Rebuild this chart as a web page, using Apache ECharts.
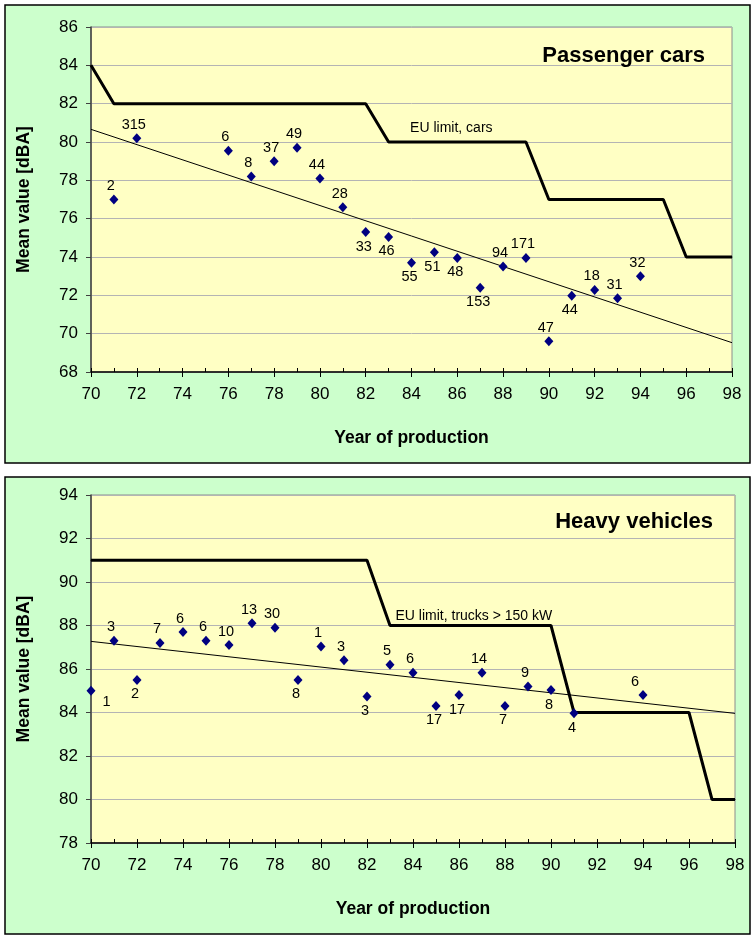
<!DOCTYPE html>
<html>
<head>
<meta charset="utf-8">
<script src="https://cdn.jsdelivr.net/npm/echarts@6/dist/echarts.min.js"></script>
<style>
html,body{margin:0;padding:0;background:#fff;}
#chart{width:752px;height:935px;}
</style>
</head>
<body>
<div id="chart"></div>
<script>
// ---------- Data ----------
const xTicks = [70,72,74,76,78,80,82,84,86,88,90,92,94,96,98];

// Passenger cars
const carsYears  = [71,72,76,77,78,79,80,81,82,83,84,85,86,87,88,89,90,91,92,93,94];
const carsMeans  = [77.0,80.2,79.55,78.2,79.0,79.7,78.1,76.6,75.3,75.05,73.7,74.25,73.95,72.4,73.5,73.95,69.6,71.98,72.28,71.85,73.0];
const carsCounts = [2,315,6,8,37,49,44,28,33,46,55,51,48,153,94,171,47,44,18,31,32];
const carsLimitYears  = [70,71,82,83,89,90,95,96,98];
const carsLimitValues = [84,82,82,80,80,77,77,74,74];
const carsTrendYears  = [70,98];
const carsTrendValues = [80.66,69.53];

// Heavy vehicles
const trucksYears  = [70,71,72,73,74,75,76,77,78,79,80,81,82,83,84,85,86,87,88,89,90,91,94];
const trucksMeans  = [85.0,87.3,85.5,87.2,87.7,87.3,87.1,88.1,87.9,85.5,87.03,86.4,84.73,86.2,85.83,84.3,84.8,85.83,84.3,85.2,85.03,83.96,84.8];
const trucksCounts = [1,3,2,7,6,6,10,13,30,8,1,3,3,5,6,17,17,14,7,9,8,4,6];
const trucksLimitYears  = [70,82,83,90,91,96,97,98];
const trucksLimitValues = [91,91,88,88,84,84,80,80];
const trucksTrendYears  = [70,98];
const trucksTrendValues = [87.27,83.96];

// ---------- Label placement (style) ----------
const carsLabelSide   = ['t','t','t','t','t','t','t','t','b','b','b','b','b','b','t','t','t','b','t','t','t'];
const trucksLabelSide = ['r','t','b','t','t','t','t','t','t','b','t','t','b','t','t','b','b','t','b','t','b','b','tl'];

const FONT = "'Liberation Sans', Arial, sans-serif";

function labelFor(side){
  const base = {show:true, fontSize:14.5, color:'#000', fontFamily:FONT,
    formatter: p => String(p.value[2])};
  if (side === 't')  return Object.assign(base,{position:'top', distance:1, offset:[-3,0]});
  if (side === 'tl') return Object.assign(base,{position:'top', distance:1, offset:[-8,0]});
  if (side === 'r')  return Object.assign(base,{position:'right', distance:7, offset:[0,11]});
  return Object.assign(base,{position:'bottom', distance:2, offset:[-2,0]});
}
function scatterData(xs, ys, cs, sides){
  return xs.map((x,i)=>({value:[x, ys[i], cs[i]], label: labelFor(sides[i])}));
}
function pairs(xs, ys){ return xs.map((x,i)=>[x, ys[i]]); }
function limitData(xs, ys, labelIdx, text, dist, offY){
  return xs.map((x,i)=>{
    const d = {value:[x, ys[i]]};
    if (i === labelIdx) d.label = {show:true, formatter:text, position:'right', distance:dist,
      offset:[0,offY], fontSize:14, color:'#000', fontFamily:FONT};
    return d;
  });
}

const grids = [
  {left:91, top:27, width:641, height:345},
  {left:91, top:495, width:644, height:348}
];

function xAxes(gi){
  return [
    {type:'value', gridIndex:gi, min:70, max:98, interval:2, position:'bottom',
     axisLine:{show:true, onZero:false, lineStyle:{color:'#000', width:1.5}},
     axisTick:{show:true, inside:false, length:5, lineStyle:{color:'#000', width:1}},
     axisLabel:{show:true, fontSize:17, color:'#000', fontFamily:FONT, margin:14,
       customValues: xTicks},
     splitLine:{show:false},
     name:'Year of production', nameLocation:'middle', nameGap:57,
     nameTextStyle:{fontSize:17.5, fontWeight:'bold', color:'#000', fontFamily:FONT}},
    {type:'value', gridIndex:gi, min:70, max:98, interval:1, position:'bottom',
     axisLine:{show:false}, axisLabel:{show:false}, splitLine:{show:false},
     axisTick:{show:true, inside:true, length:4, lineStyle:{color:'#000', width:1}}}
  ];
}
function yAxis(gi, mn, mx){
  return {type:'value', gridIndex:gi, min:mn, max:mx, interval:2,
    axisLine:{show:true, onZero:false, lineStyle:{color:'#404040', width:1.5}},
    axisTick:{show:true, inside:false, length:5, lineStyle:{color:'#404040'}},
    axisLabel:{fontSize:17, color:'#000', fontFamily:FONT, margin:13},
    splitLine:{show:true, lineStyle:{color:'#b4b4b4', width:1}},
    name:'Mean value [dBA]', nameLocation:'middle', nameGap:58,
    nameTextStyle:{fontSize:17.5, fontWeight:'bold', color:'#000', fontFamily:FONT}};
}

const option = {
  animation:false,
  backgroundColor:'#ffffff',
  graphic:{elements:[
    {type:'rect', z:-100, silent:true, shape:{x:5, y:5, width:745, height:458},
     style:{fill:'#ccffcc', stroke:'#000', lineWidth:1.5}},
    {type:'rect', z:-100, silent:true, shape:{x:5, y:477, width:745, height:457},
     style:{fill:'#ccffcc', stroke:'#000', lineWidth:1.5}}
  ]},
  title:[
    {text:'Passenger cars', right:42, top:40,
     textStyle:{fontSize:22, fontWeight:'bold', color:'#000', fontFamily:FONT}},
    {text:'Heavy vehicles', right:34, top:506,
     textStyle:{fontSize:22, fontWeight:'bold', color:'#000', fontFamily:FONT}}
  ],
  grid: grids.map(g => Object.assign({show:true, backgroundColor:'#ffffc4',
    borderColor:'#8c8c8c', borderWidth:1}, g)),
  xAxis: [...xAxes(0), ...xAxes(1)],
  yAxis: [yAxis(0,68,86), yAxis(1,78,94)],
  series: [
    {type:'line', name:'EU limit, cars', xAxisIndex:0, yAxisIndex:0,
     data: limitData(carsLimitYears, carsLimitValues, 3, 'EU limit, cars', 21, -14),
     symbol:'circle', symbolSize:1, showSymbol:true, itemStyle:{color:'#000'},
     lineStyle:{color:'#000', width:3}, z:3},
    {type:'line', name:'Trend cars', xAxisIndex:0, yAxisIndex:0,
     data: pairs(carsTrendYears, carsTrendValues), showSymbol:false, symbol:'none',
     lineStyle:{color:'#000', width:1}, z:2},
    {type:'scatter', name:'Cars', xAxisIndex:0, yAxisIndex:0,
     data: scatterData(carsYears, carsMeans, carsCounts, carsLabelSide),
     symbol:'diamond', symbolSize:[9,10], itemStyle:{color:'#000080', opacity:1}, z:4},

    {type:'line', name:'EU limit, trucks', xAxisIndex:2, yAxisIndex:1,
     data: limitData(trucksLimitYears, trucksLimitValues, 2, 'EU limit, trucks > 150 kW', 5, -9),
     symbol:'circle', symbolSize:1, showSymbol:true, itemStyle:{color:'#000'},
     lineStyle:{color:'#000', width:3}, z:3},
    {type:'line', name:'Trend trucks', xAxisIndex:2, yAxisIndex:1,
     data: pairs(trucksTrendYears, trucksTrendValues), showSymbol:false, symbol:'none',
     lineStyle:{color:'#000', width:1}, z:2},
    {type:'scatter', name:'Trucks', xAxisIndex:2, yAxisIndex:1,
     data: scatterData(trucksYears, trucksMeans, trucksCounts, trucksLabelSide),
     symbol:'diamond', symbolSize:[9,10], itemStyle:{color:'#000080', opacity:1}, z:4}
  ]
};
const chart = echarts.init(document.getElementById('chart'), null, {renderer:'canvas'});
chart.setOption(option);
</script>
</body>
</html>
